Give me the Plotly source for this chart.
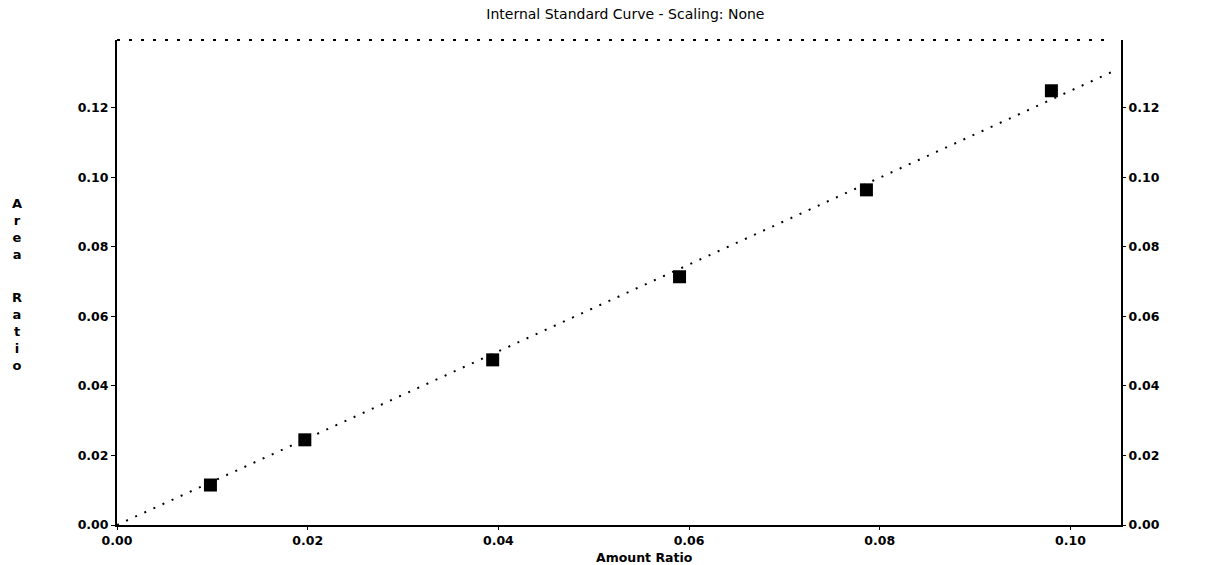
import plotly.graph_objects as go

# Data
amount_ratio = [0.0098, 0.0197, 0.0394, 0.0590, 0.0786, 0.0980]
area_ratio = [0.0115, 0.0245, 0.0475, 0.0714, 0.0964, 0.1249]
fit_x = [0.0, 0.1045]
fit_y = [0.0, 0.1305]

x_ticks = [0.00, 0.02, 0.04, 0.06, 0.08, 0.10]
x_tick_text = ["0.00", "0.02", "0.04", "0.06", "0.08", "0.10"]
y_ticks = [0.00, 0.02, 0.04, 0.06, 0.08, 0.10, 0.12]
y_tick_text = ["0.00", "0.02", "0.04", "0.06", "0.08", "0.10", "0.12"]

X_RANGE = [0, 0.1053]
Y_RANGE = [0, 0.1395]

FONT = "DejaVu Sans, Verdana, sans-serif"

fig = go.Figure()

fig.add_trace(go.Scatter(
    x=fit_x, y=fit_y, mode="lines",
    line=dict(color="black", width=2, dash="2px,8px"),
    hoverinfo="skip", showlegend=False,
))
fig.add_trace(go.Scatter(
    x=amount_ratio, y=area_ratio, mode="markers",
    marker=dict(symbol="square", size=13, color="black"),
    showlegend=False,
))
# invisible trace to activate right axis
fig.add_trace(go.Scatter(x=[0], y=[0], yaxis="y2", mode="markers",
                         marker=dict(opacity=0), hoverinfo="skip", showlegend=False))

tickfont = dict(family=FONT, size=12.5, color="black", weight="bold")

fig.update_layout(
    width=1205, height=565,
    margin=dict(l=117, r=84, t=40, b=40),
    paper_bgcolor="white", plot_bgcolor="white",
    title=dict(text="Internal Standard Curve - Scaling: None",
               x=0.519, xanchor="center", y=0.975, yanchor="middle",
               font=dict(family=FONT, size=14, color="black")),
    xaxis=dict(range=X_RANGE, tickvals=x_ticks, ticktext=x_tick_text,
               showgrid=False, zeroline=False, showline=True, linecolor="black",
               linewidth=2, ticks="outside", ticklen=3, tickcolor="black",
               tickfont=tickfont, ticklabelstandoff=0),
    yaxis=dict(range=Y_RANGE, tickvals=y_ticks, ticktext=y_tick_text,
               showgrid=False, zeroline=False, showline=True, linecolor="black",
               linewidth=2, ticks="outside", ticklen=4, tickcolor="black",
               tickfont=tickfont, ticklabelstandoff=0),
    yaxis2=dict(range=Y_RANGE, tickvals=y_ticks, ticktext=y_tick_text,
                overlaying="y", side="right",
                showgrid=False, zeroline=False, showline=True, linecolor="black",
                linewidth=2, ticks="outside", ticklen=3, tickcolor="black",
                tickfont=tickfont, ticklabelstandoff=0),
    shapes=[dict(type="line", xref="paper", yref="paper", x0=0, x1=0.99, y0=1, y1=1,
                 line=dict(color="black", width=2, dash="3px,9px"))],
    annotations=[
        dict(text="Amount Ratio", xref="paper", yref="paper", x=0.525, y=-0.066,
             xanchor="center", yanchor="middle", showarrow=False,
             font=dict(family=FONT, size=12.5, color="black", weight="bold")),
        dict(text="A<br>r<br>e<br>a", xref="paper", yref="paper", x=-0.1, y=0.61,
             xanchor="center", yanchor="middle", showarrow=False,
             font=dict(family=FONT, size=13, color="black", weight="bold")),
        dict(text="R<br>a<br>t<br>i<br>o", xref="paper", yref="paper", x=-0.1, y=0.40,
             xanchor="center", yanchor="middle", showarrow=False,
             font=dict(family=FONT, size=13, color="black", weight="bold")),
    ],
)

fig.write_html("out.html")
